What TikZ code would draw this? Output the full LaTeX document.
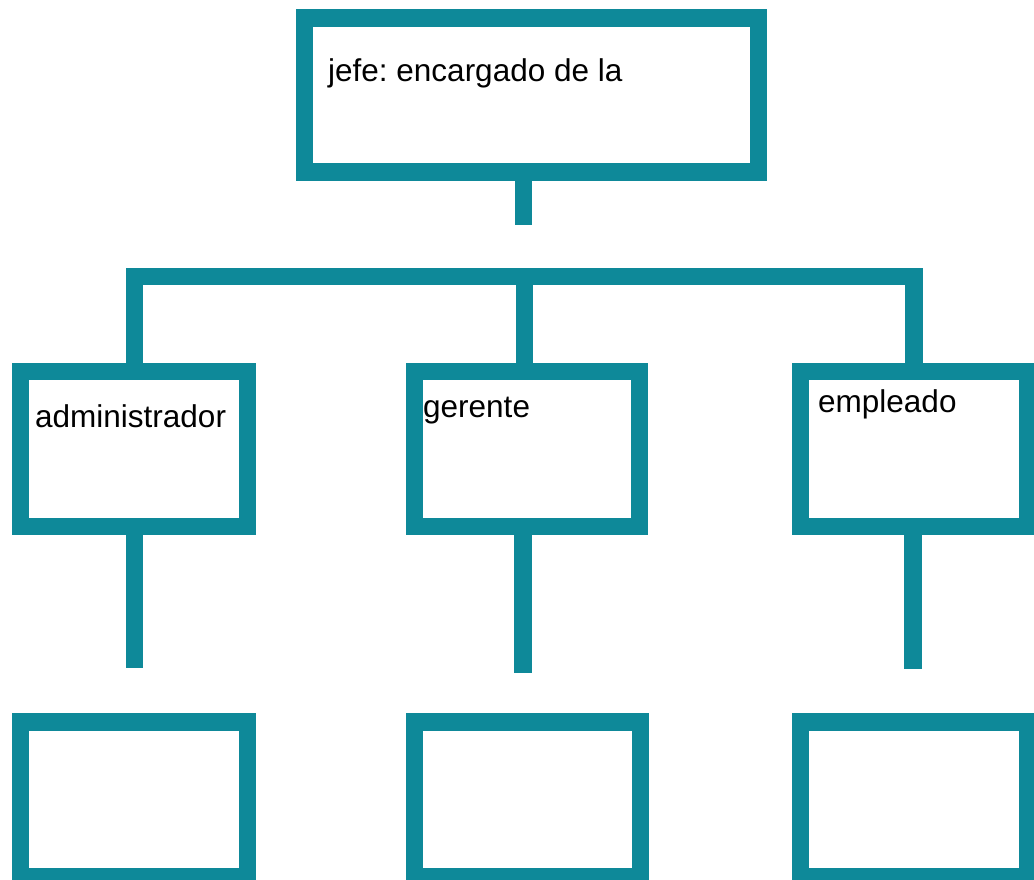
\documentclass[tikz,border=0pt]{standalone}
\usepackage{fontspec}
\setmainfont{Liberation Sans}
\definecolor{teal1}{RGB}{14,137,153}
\frenchspacing
\begin{document}
\begin{tikzpicture}[x=1pt,y=-1pt,
  box/.style={draw=teal1,line width=17.5pt,rectangle,inner sep=0pt,outer sep=0pt,fill=white},
  conn/.style={draw=teal1,line width=17.5pt,line join=miter,line cap=butt},
  lbl/.style={anchor=base west,inner sep=0pt,font=\fontsize{31.5}{38}\selectfont,text=black}]
\useasboundingbox (0,0) rectangle (1034,879);
\clip (0,0) rectangle (1034,879);
\fill[white] (0,0) rectangle (1034,879);
% boxes
\node[box,minimum width=454pt,minimum height=154pt] (top) at (531.5,95) {};
\node[box,minimum width=227pt,minimum height=155pt] (adm) at (134,449) {};
\node[box,minimum width=225pt,minimum height=155pt] (ger) at (527,449) {};
\node[box,minimum width=227pt,minimum height=155pt] (emp) at (914,449) {};
\node[box,minimum width=227pt,minimum height=154.5pt] (b1) at (134,799.25) {};
\node[box,minimum width=226pt,minimum height=154.5pt] (b2) at (527.5,799.25) {};
\node[box,minimum width=227pt,minimum height=154.5pt] (b3) at (914,799.25) {};
% free ends
\coordinate (topend) at (523.5,225);
\coordinate (barl) at (134.5,276.5);
\coordinate (barr) at (914,276.5);
\coordinate (barm) at (524.5,268);
\coordinate (e1) at (134.5,668);
\coordinate (e2) at (523,673);
\coordinate (e3) at (913,669);
% connectors
\draw[conn] (top.south -| topend) -- (topend);
\draw[conn] (adm.north -| barl) -- (barl) -- (barr) -- (emp.north -| barr);
\draw[conn] (barm) -- (ger.north -| barm);
\draw[conn] (adm.south -| e1) -- (e1);
\draw[conn] (ger.south -| e2) -- (e2);
\draw[conn] (emp.south -| e3) -- (e3);
% labels
\node[lbl] (tlabel) at (328,81) {jefe: encargado de la};
\node[lbl] (alabel) at (35,427) {administrador};
\node[lbl] (glabel) at (423,417) {gerente};
\node[lbl] (elabel) at (818,412) {empleado};
\end{tikzpicture}
\end{document}
